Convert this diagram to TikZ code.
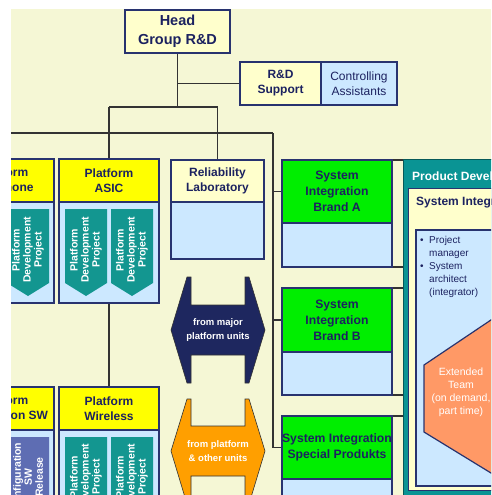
\documentclass[tikz,border=0pt]{standalone}
\usepackage{fontspec}
\setmainfont{Liberation Sans}
\definecolor{bgc}{HTML}{F5F7D5}
\definecolor{lyel}{HTML}{FFFFCC}
\definecolor{yel}{HTML}{FFFF00}
\definecolor{lblu}{HTML}{CCE8FF}
\definecolor{grn}{HTML}{00EE00}
\definecolor{nav}{HTML}{28336F}
\definecolor{txt}{HTML}{1C2260}
\definecolor{tealp}{HTML}{139690}
\definecolor{tealb}{HTML}{0A9494}
\definecolor{slate}{HTML}{5E6DB3}
\definecolor{arrnav}{HTML}{1E275F}
\definecolor{orng}{HTML}{FF9F00}
\definecolor{salm}{HTML}{FF9966}
\definecolor{lnc}{HTML}{333333}
\newcommand{\myfs}[2]{\fontsize{#1}{#2}\selectfont}
\tikzset{
  hdr/.style={draw=nav, line width=1.6pt, inner sep=0pt, align=center, text=txt, font=\bfseries\myfs{12}{15}},
  bodyb/.style={draw=nav, line width=1.6pt, inner sep=0pt, fill=lblu},
  conn/.style={draw=lnc, line width=1.6pt},
  ptext/.style={text=white, align=center, inner sep=0pt, font=\bfseries\myfs{10.5}{11}},
  atext/.style={text=white, align=center, inner sep=0pt, font=\bfseries\myfs{9.5}{13.5}},
  sibox/.style={hdr, fill=grn, minimum width=110, font=\bfseries\myfs{12.2}{16}},
  sibody/.style={bodyb, minimum width=110},
  backing/.style={draw=lnc, line width=1.2pt, fill=bgc}
}
\newcommand{\mypent}[6]{%
  \fill[#3] (#1,#2) -- ++(42,0) -- ++(0,74) -- ++(-21,13) -- ++(-21,-13) -- cycle;
  \node[ptext, rotate=90] (#5) at ({#1+21},#4) {#6};}
\begin{document}
\begin{tikzpicture}[x=1pt,y=-1pt]
\useasboundingbox (0,0) rectangle (491,495);
\fill[white] (0,0) rectangle (491,495);
\fill[bgc] (11,9) rectangle (491,495);
\begin{scope}
\clip (11,9) rectangle (491,495);

% top boxes
\node[hdr, fill=lyel, font=\bfseries\myfs{14.5}{19}, minimum width=105, minimum height=43] (head) at (177.5,31.5) {Head\\Group R\&D};
\node[hdr, fill=lyel, minimum width=81, minimum height=43] (rds) at (280.5,83.5) {R\&D\\Support};
\node[hdr, fill=lblu, font=\myfs{12}{15}, minimum width=76, minimum height=43] (ctrl) at (359,83.5) {Controlling\\Assistants};

% reliability
\node[hdr, fill=lyel, minimum width=93, minimum height=42] (relh) at (217.5,181) {Reliability\\Laboratory};
\node[bodyb, minimum width=93, minimum height=57] (relb) at (217.5,230.5) {};

% platform boxes
\node[bodyb, minimum width=100, minimum height=101] (asicb) at (109,252.5) {};
\node[hdr, fill=yel, minimum width=100, minimum height=43] (asich) at (109,180.5) {Platform\\ASIC};
\node[bodyb, minimum width=100, minimum height=101] (leftb) at (4,252.5) {};
\node[hdr, fill=yel, minimum width=100, minimum height=43] (lefth) at (4,180.5) {Platform\\Telephone};
\node[bodyb, minimum width=100, minimum height=110] (wlb) at (109,485) {};
\node[hdr, fill=yel, minimum width=100, minimum height=43] (wlh) at (109,408.5) {Platform\\Wireless};
\node[bodyb, minimum width=100, minimum height=110] (swb) at (4,485) {};
\node[hdr, fill=yel, minimum width=100, minimum height=43] (swh) at (4,408.5) {Platform\\Application SW};

% pentagons
\mypent{65}{209}{tealp}{250}{pa1}{Platform\\Development\\Project}
\mypent{111}{209}{tealp}{250}{pa2}{Platform\\Development\\Project}
\mypent{-39}{209}{tealp}{250}{pl1}{Platform\\Development\\Project}
\mypent{7}{209}{tealp}{250}{pl2}{Platform\\Development\\Project}
\mypent{65}{437}{tealp}{477}{pw1}{Platform\\Development\\Project}
\mypent{111}{437}{tealp}{477}{pw2}{Platform\\Development\\Project}
\mypent{-39}{437}{slate}{477}{ps1}{Configuration\\SW\\Release}
\mypent{7}{437}{slate}{477}{ps2}{Configuration\\SW\\Release}

% system integration boxes
\draw[backing] (300,160) rectangle (420,267);
\draw[backing] (300,288) rectangle (420,395);
\draw[backing] (300,416) rectangle (420,540);
\node[sibox, minimum height=63] (siAh) at (337,191.5) {System\\Integration\\Brand A};
\node[sibody, minimum height=44] (siAb) at (337,245) {};
\node[sibox, minimum height=64] (siBh) at (337,320) {System\\Integration\\Brand B};
\node[sibody, minimum height=43] (siBb) at (337,373.5) {};
\node[sibox, minimum height=63] (siCh) at (337,447.5) {System Integration\\Special Produkts};
\node[sibody, minimum height=62] (siCb) at (337,510) {};

% connectors
\coordinate (j1) at (177.5,107);
\coordinate (j2) at (273,133);
\draw[conn] (head.south) -- (j1);
\draw[conn] (head.south |- rds.west) -- (rds.west);
\draw[conn] (asich.north |- j1) -| (relh.north);
\draw[conn] (asich.north |- j1) -- (asich.north);
\draw[conn] (asicb.south) -- (wlh.north);
\draw[conn] (lefth.north) |- (j2);
\draw[conn] (j2) |- (siCh.west);
\draw[conn] (j2 |- siAh.west) -- (siAh.west);
\draw[conn] (j2 |- siBh.west) -- (siBh.west);

% double arrows
\filldraw[fill=arrnav, draw=black!80, line width=0.6pt] (187,277) -- (191,277) -- (191,305) -- (245,305) -- (245,277) -- (249,277) -- (265,330) -- (249,383) -- (245,383) -- (245,355) -- (191,355) -- (191,383) -- (187,383) -- (171,330) -- cycle;
\node[atext] (arrA) at (218,330) {from major\\platform units};
\filldraw[fill=orng, draw=black!80, line width=0.6pt] (187,399) -- (191,399) -- (191,426) -- (245,426) -- (245,399) -- (249,399) -- (265,451) -- (249,504) -- (245,504) -- (245,476) -- (191,476) -- (191,504) -- (187,504) -- (171,451) -- cycle;
\node[atext] (arrB) at (218,451) {from platform\\\& other units};

% product development panel
\filldraw[fill=tealb, draw=tealb!60!black, line width=0.8pt] (403,159) rectangle (520,520);
\node[anchor=west, text=white, inner sep=0pt, font=\bfseries\myfs{12}{14}] (pdt) at (412,177) {Product Development};
\filldraw[fill=lyel, draw=nav, line width=0.6pt] (408,188) rectangle (520,490);
\node[anchor=west, text=txt, inner sep=0pt, font=\bfseries\myfs{12}{14}] (sit) at (416,202) {System Integration};
\filldraw[fill=lblu, draw=nav, line width=1.6pt] (416,230) rectangle (520,486);
\node[anchor=north west, align=left, text=txt, inner sep=0pt, font=\myfs{10}{13}] (bul) at (420,236)
  {\makebox[9pt][l]{\textbullet}Project\\\makebox[9pt][l]{}manager\\\makebox[9pt][l]{\textbullet}System\\\makebox[9pt][l]{}architect\\\makebox[9pt][l]{}(integrator)};
\filldraw[fill=salm, draw=nav, line width=1.2pt] (424,365) -- (540,287) -- (540,503) -- (424,432) -- cycle;
\node[text=white, align=center, inner sep=0pt, font=\myfs{10.5}{13}] (ext) at (461,392) {Extended\\Team\\(on demand,\\part time)};
\end{scope}
\end{tikzpicture}
\end{document}
